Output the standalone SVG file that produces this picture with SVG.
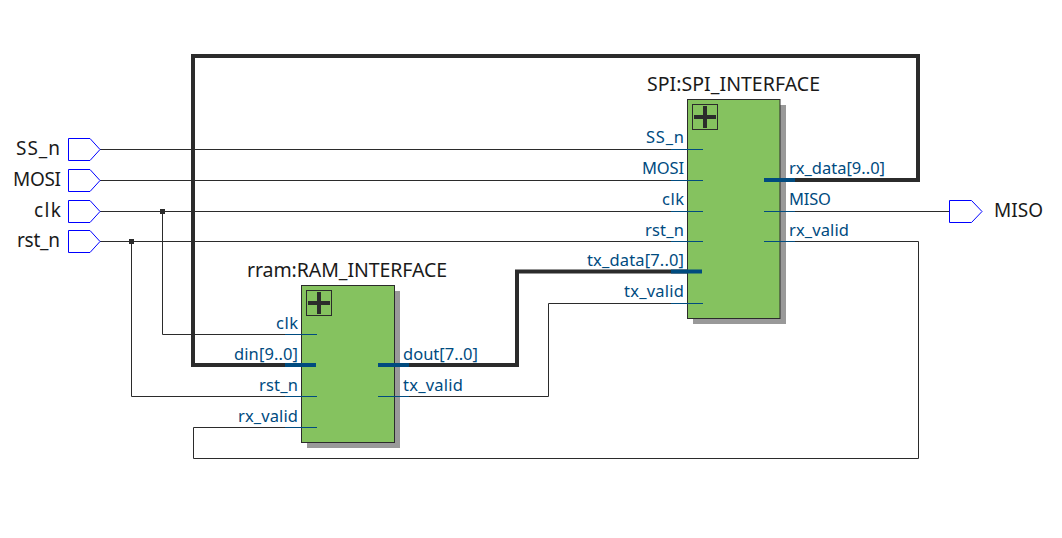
<svg xmlns="http://www.w3.org/2000/svg" width="1062" height="538" viewBox="0 0 1062 538">
<style>
text{font-family:"Noto Sans","Open Sans","DejaVu Sans",sans-serif}
.pin{fill:#fff;stroke:#0000ff;stroke-width:1}
.io{font-size:19px;fill:#1a1a1a}
.title{font-size:19.5px;fill:#1a1a1a}
.lbl{font-size:16.5px;fill:#004b7f}
.w{fill:none;stroke:#2b2b2b;stroke-width:1}
.b{fill:none;stroke:#2b2b2b;stroke-width:4}
.pw{fill:none;stroke:#004b7f;stroke-width:1}
.pb{fill:none;stroke:#004b7f;stroke-width:4}
.shadow{fill:#999}
.box{fill:#85c25f;stroke:#2b2b2b;stroke-width:1}
.plusbox{fill:none;stroke:#2b2b2b;stroke-width:1}
.plus{fill:none;stroke:#2b2b2b;stroke-width:4}
.j{fill:#2b2b2b}
</style>
<g id="connectors">
<path class="w" d="M100 149.500H687"/>
<path class="w" d="M100 180.500H687"/>
<path class="w" d="M100 211.500H687"/>
<path class="w" d="M100 241.500H687"/>
<path class="w" d="M162.500 211.500V334.500H301"/>
<path class="w" d="M131.500 241.500V396.500H301"/>
<path class="b" d="M301 365H193V56H918V180H781"/>
<path class="b" d="M395 365H517V271.500H687"/>
<path class="w" d="M395 396.500H548.500V303.500H687"/>
<path class="w" d="M781 241.500H918.500V458.500H193.500V427.500H301"/>
<path class="w" d="M781 211.500H949"/>
<rect class="j" x="160" y="209" width="5" height="5"/>
<rect class="j" x="129" y="239" width="5" height="5"/>
</g>
<g id="SS_n"><path class="pin" d="M68.500 138.500H90L100 149.500L90 160.500H68.500Z"/><text class="io" x="16" y="155" textLength="44">SS_n</text></g>
<g id="MOSI"><path class="pin" d="M68.500 169.500H90L100 180.500L90 191.500H68.500Z"/><text class="io" x="13" y="186" textLength="48">MOSI</text></g>
<g id="clk"><path class="pin" d="M68.500 200.500H90L100 211.500L90 222.500H68.500Z"/><text class="io" x="34" y="217" textLength="27">clk</text></g>
<g id="rst_n"><path class="pin" d="M68.500 230.500H90L100 241.500L90 252.500H68.500Z"/><text class="io" x="17" y="247" textLength="43">rst_n</text></g>
<g id="MISO"><path class="pin" d="M949.500 200.500H971.500L982 211.500L971.500 222.500H949.500Z"/><text class="io" x="994" y="217" textLength="49">MISO</text></g>
<g id="SPI_INTERFACE">
<rect class="shadow" x="693" y="105" width="93" height="219"/>
<rect class="box" x="687.500" y="99.500" width="92.500" height="219"/>
<rect class="plusbox" x="692.500" y="104.500" width="25" height="25"/>
<path class="plus" d="M694 117H716M705 106V128"/>
<text class="title" x="647" y="91" textLength="173">SPI:SPI_INTERFACE</text>
<path class="pw" d="M671 149.500H703M671 180.500H703M671 211.500H703M671 241.500H703M671 303.500H703M764 211.500H795M764 241.500H795"/>
<path class="pb" d="M671 271.500H702M764 180H795"/>
<g class="lbl">
<text x="646" y="143" textLength="38">SS_n</text><text x="642" y="174" textLength="42">MOSI</text><text x="662" y="205" textLength="22">clk</text><text x="645" y="236" textLength="39">rst_n</text><text x="587" y="266" textLength="97">tx_data[7..0]</text><text x="624" y="297" textLength="60">tx_valid</text>
<text x="789" y="174" textLength="96">rx_data[9..0]</text><text x="789" y="205" textLength="42">MISO</text><text x="789" y="236" textLength="60">rx_valid</text>
</g>
</g>
<g id="RAM_INTERFACE">
<rect class="shadow" x="307" y="291" width="93" height="157"/>
<rect class="box" x="301.500" y="285.500" width="93" height="157"/>
<rect class="plusbox" x="306.500" y="290.500" width="25" height="25"/>
<path class="plus" d="M308 303H330M319 292V314"/>
<text class="title" x="247" y="277" textLength="200">rram:RAM_INTERFACE</text>
<path class="pw" d="M285 334.500H317M285 396.500H317M285 427.500H317M378 396.500H409"/>
<path class="pb" d="M285 365H316M378 365H409"/>
<g class="lbl">
<text x="276" y="329" textLength="22">clk</text><text x="234" y="360" textLength="64">din[9..0]</text><text x="259" y="391" textLength="39">rst_n</text><text x="238" y="422" textLength="60">rx_valid</text>
<text x="403" y="360" textLength="75">dout[7..0]</text><text x="403" y="391" textLength="60">tx_valid</text>
</g>
</g>
</svg>
